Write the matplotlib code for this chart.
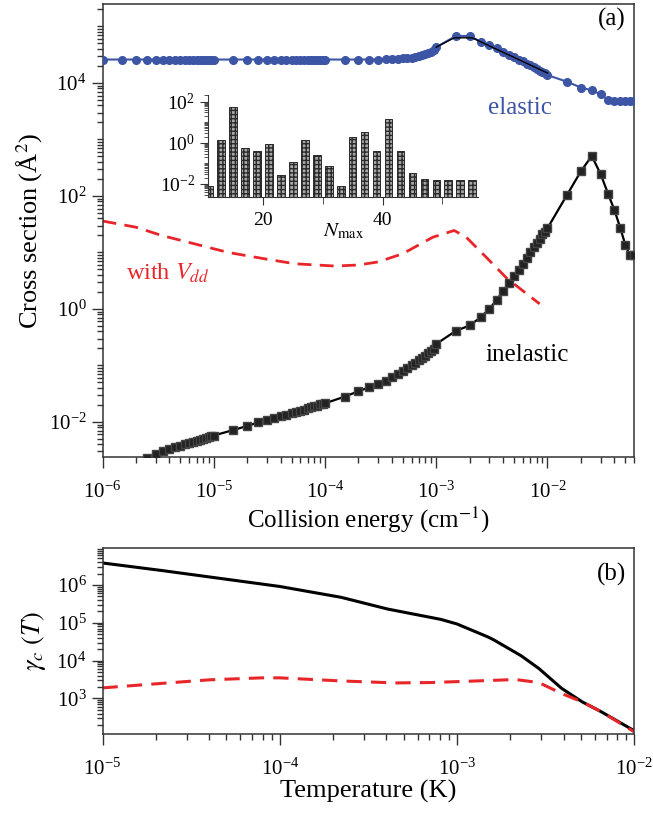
import matplotlib
matplotlib.use("Agg")
import matplotlib.pyplot as plt
import matplotlib.ticker as mticker
import numpy as np

plt.rcParams['font.family'] = ['Liberation Serif', 'DejaVu Serif']
plt.rcParams['mathtext.fontset'] = 'stix'
plt.rcParams['axes.unicode_minus'] = False

# ---- panel (a): cross sections vs collision energy (cm^-1) ----
# energy grid of the calculation (1, 1.5, ... 9.5 per decade)
e_grid = [1e-6, 1.5e-6, 2e-6, 2.5e-6, 3e-6, 3.5e-6, 4e-6, 4.5e-6, 5e-6, 5.5e-6,
          6e-6, 6.5e-6, 7e-6, 7.5e-6, 8e-6, 8.5e-6, 9e-6, 9.5e-6,
          1e-5, 1.5e-5, 2e-5, 2.5e-5, 3e-5, 3.5e-5, 4e-5, 4.5e-5, 5e-5, 5.5e-5,
          6e-5, 6.5e-5, 7e-5, 7.5e-5, 8e-5, 8.5e-5, 9e-5, 9.5e-5,
          1e-4, 1.5e-4, 2e-4, 2.5e-4, 3e-4, 3.5e-4, 4e-4, 4.5e-4, 5e-4, 5.5e-4,
          6e-4, 6.5e-4, 7e-4, 7.5e-4, 8e-4, 8.5e-4, 9e-4, 9.5e-4,
          1e-3, 1.5e-3, 2e-3, 2.5e-3, 3e-3, 3.5e-3, 4e-3, 4.5e-3, 5e-3, 5.5e-3,
          6e-3, 6.5e-3, 7e-3, 7.5e-3, 8e-3, 8.5e-3, 9e-3, 9.5e-3,
          1e-2, 1.5e-2, 2e-2, 2.5e-2, 3e-2, 3.5e-2, 4e-2, 4.5e-2, 5e-2, 5.5e-2, 6e-2]

sigma_el = [2.6e4] * 40 + [
    2.6e4, 2.63e4, 2.63e4, 2.7e4, 2.72e4, 2.75e4, 2.82e4, 2.88e4, 2.95e4, 3.1e4,
    3.25e4, 3.4e4, 3.6e4, 3.9e4,
    4.3e4, 6.8e4, 6.8e4, 5.4e4, 4.7e4, 4.1e4, 3.55e4, 3.15e4, 2.85e4, 2.6e4,
    2.4e4, 2.2e4, 2.05e4, 1.9e4, 1.78e4, 1.66e4, 1.58e4, 1.48e4,
    1.38e4, 1.05e4, 8.3e3, 7.4e3, 6.3e3, 5.0e3, 4.7e3, 4.7e3, 4.7e3, 4.7e3, 4.7e3]

# second elastic curve (thin black line)
e_el2 = [1e-3, 1.45e-3, 2.1e-3, 1e-2]
sigma_el2 = [4.3e4, 6.3e4, 6.3e4, 1.5e4]

e_inel = e_grid[3:]
sigma_inel = [
    2.34e-3, 2.7e-3, 3.0e-3, 3.3e-3, 3.55e-3, 3.8e-3, 4.0e-3, 4.2e-3, 4.35e-3,
    4.55e-3, 4.8e-3, 5.0e-3, 5.25e-3, 5.4e-3, 5.6e-3,
    5.75e-3, 7.2e-3, 8.5e-3, 9.8e-3, 1.1e-2, 1.17e-2, 1.26e-2, 1.35e-2, 1.45e-2,
    1.51e-2, 1.58e-2, 1.66e-2, 1.74e-2, 1.82e-2, 1.9e-2, 1.95e-2, 2.04e-2, 2.09e-2,
    2.14e-2, 2.8e-2, 3.5e-2, 4.1e-2, 4.7e-2, 5.4e-2, 6.3e-2, 7.1e-2, 7.9e-2,
    8.9e-2, 0.10, 0.11, 0.123, 0.135, 0.15, 0.166, 0.178, 0.195,
    0.24, 0.41, 0.51, 0.71, 1.0, 1.45, 2.1, 2.9, 3.8, 4.9, 6.3, 8.1, 10.0, 12.3,
    14.8, 17.4, 20.9, 23.4,
    26.9, 105, 275, 510, 245, 110, 56, 27.5, 13.8, 8.9, 8.9]

e_vdd = [1e-6, 2e-6, 3.4e-6, 1.35e-5, 3e-5, 5.4e-5, 1.23e-4, 2e-4, 3.0e-4, 5.0e-4,
         9.3e-4, 1.45e-3, 1.86e-3, 2.8e-3, 4.3e-3, 8.5e-3]
sigma_vdd = [36, 28, 20, 10, 7.6, 6.3, 5.75, 6.0, 6.8, 9.5,
             18.6, 24.5, 18.6, 8.3, 3.5, 1.23]

# inset: convergence with N_max
n_max = [11, 13, 15, 17, 19, 21, 23, 25, 27, 29, 31, 33, 35, 37, 39, 41, 43, 45,
         47, 49, 51, 53, 55]
n_err = [0.007, 1.3, 55, 0.55, 0.4, 0.87, 0.027, 0.11, 1.4, 0.24, 0.07, 0.007,
         1.9, 3.5, 0.4, 14, 0.38, 0.033, 0.016, 0.014, 0.014, 0.014, 0.014]

# ---- panel (b): gamma_c vs temperature (K) ----
t_c = [1e-5, 2.16e-5, 1e-4, 2.22e-4, 4.07e-4, 8.1e-4, 1e-3, 1.5e-3, 1.62e-3,
       2.3e-3, 2.9e-3, 3.9e-3, 5.1e-3, 6.5e-3, 1e-2]
gamma_c = [3.8e6, 2.4e6, 9.1e5, 4.7e5, 2.3e5, 1.23e5, 9.3e4, 4.2e4, 3.5e4,
           1.35e4, 6.2e3, 1.85e3, 810, 450, 141]

t_vdd = [1e-5, 2.16e-5, 4e-5, 7.9e-5, 1e-4, 2.22e-4, 4.5e-4, 7.1e-4, 1.43e-3,
         2.14e-3, 2.9e-3, 3.9e-3, 5.1e-3, 6.5e-3, 1e-2]
gamma_vdd = [1.9e3, 2.5e3, 3.1e3, 3.5e3, 3.5e3, 2.9e3, 2.57e3, 2.63e3, 2.95e3,
             3.16e3, 2.63e3, 1.35e3, 810, 450, 132]

blue = '#3c55a5'
red = '#e8262a'
frame = '#333333'


def style(ax, size=15):
    ax.set_xscale('log')
    ax.set_yscale('log')
    for s in ax.spines.values():
        s.set_color(frame)
        s.set_linewidth(1.1)
    ax.tick_params(which='both', direction='out', top=False, right=False,
                   labelsize=size, color=frame, width=1)
    ax.tick_params(which='major', length=8)
    ax.tick_params(which='minor', length=4)
    ax.tick_params(axis='x', which='major', pad=10)
    ax.xaxis.set_minor_locator(mticker.LogLocator(base=10, subs=np.arange(2, 10), numticks=30))
    ax.yaxis.set_minor_locator(mticker.LogLocator(base=10, subs=np.arange(1, 10), numticks=30))
    ax.xaxis.set_minor_formatter(mticker.NullFormatter())
    ax.yaxis.set_minor_formatter(mticker.NullFormatter())


fig = plt.figure(figsize=(6.53, 8.15), dpi=100)

ax1 = fig.add_axes([0.157, 0.4393, 0.814, 0.5558])
style(ax1)
ax1.plot(e_grid, sigma_el, '-o', color=blue, ms=5.5, lw=1.5, zorder=3)
ax1.plot(e_el2, sigma_el2, '-', color='black', lw=1.0, zorder=4)
ax1.plot(e_inel, sigma_inel, '-s', color='black', mfc='#222222', mec='#444444',
         ms=5.5, lw=1.6, zorder=3)
ax1.plot(e_vdd, sigma_vdd, color=red, lw=2, dashes=(5, 3), zorder=2)
ax1.set_xlim(1e-6, 6e-2)
ax1.set_ylim(2.4e-3, 2.5e5)
ax1.xaxis.set_major_locator(mticker.LogLocator(base=10, numticks=10))
ax1.yaxis.set_major_locator(mticker.FixedLocator([1e-2, 1e0, 1e2, 1e4]))
ax1.xaxis.set_major_formatter(mticker.LogFormatterMathtext())
ax1.yaxis.set_major_formatter(mticker.LogFormatterMathtext())
ax1.set_xlabel('Collision energy (cm$^{-1}$)', fontsize=18, labelpad=1)
ax1.set_ylabel('Cross section (Å$^2$)', fontsize=19, labelpad=3)
ax1.text(0.985, 0.965, '(a)', transform=ax1.transAxes, ha='right', va='center', fontsize=18)
ax1.text(0.786, 0.770, 'elastic', transform=ax1.transAxes, ha='center', va='center',
         fontsize=18, color=blue)
ax1.text(0.799, 0.226, 'inelastic', transform=ax1.transAxes, ha='center', va='center',
         fontsize=18, color='black')
ax1.text(0.045, 0.405, 'with $V_{dd}$', transform=ax1.transAxes, ha='left', va='center',
         fontsize=17.5, color=red)

# inset
axi = fig.add_axes([0.319, 0.7587, 0.4135, 0.1248])
axi.set_yscale('log')
axi.bar(n_max, n_err, width=1.3, bottom=1e-3, color='#a8a8a8', edgecolor='#2a2a2a',
        hatch='++++', linewidth=0.7)
axi.set_xlim(10.9, 56)
axi.set_ylim(2.4e-3, 2.1e2)
axi.spines['top'].set_visible(False)
axi.spines['right'].set_visible(False)
for s in ['left', 'bottom']:
    axi.spines[s].set_color(frame)
axi.tick_params(which='both', direction='out', labelsize=14, color=frame)
axi.tick_params(which='major', length=6)
axi.tick_params(which='minor', length=3)
axi.tick_params(axis='x', which='major', pad=5)
axi.xaxis.set_major_locator(mticker.FixedLocator([20, 40]))
axi.xaxis.set_minor_locator(mticker.FixedLocator([30, 50]))
axi.tick_params(axis='x', which='minor', length=5)
axi.yaxis.set_major_locator(mticker.FixedLocator([1e-2, 1e0, 1e2]))
axi.yaxis.set_minor_locator(mticker.LogLocator(base=10, subs=np.arange(1, 10), numticks=30))
axi.yaxis.set_major_formatter(mticker.LogFormatterMathtext())
axi.yaxis.set_minor_formatter(mticker.NullFormatter())
axi.set_xlabel('$N_{\\mathrm{max}}$', fontsize=15, labelpad=-5)

# panel (b)
ax2 = fig.add_axes([0.157, 0.0994, 0.814, 0.2279])
style(ax2)
ax2.plot(t_c, gamma_c, '-', color='black', lw=2.2)
ax2.plot(t_vdd, gamma_vdd, color=red, lw=2.2, dashes=(5, 3))
ax2.set_xlim(1e-5, 1e-2)
ax2.set_ylim(115, 9.3e6)
ax2.xaxis.set_major_locator(mticker.LogLocator(base=10, numticks=10))
ax2.yaxis.set_major_locator(mticker.FixedLocator([1e3, 1e4, 1e5, 1e6]))
ax2.xaxis.set_major_formatter(mticker.LogFormatterMathtext())
ax2.yaxis.set_major_formatter(mticker.LogFormatterMathtext())
ax2.set_xlabel('Temperature (K)', fontsize=19, labelpad=0)
ax2.set_ylabel('$\\gamma_c\\ (T)$', fontsize=19, labelpad=6)
ax2.text(0.985, 0.86, '(b)', transform=ax2.transAxes, ha='right', va='center', fontsize=18)

fig.savefig('out.png', dpi=100)
